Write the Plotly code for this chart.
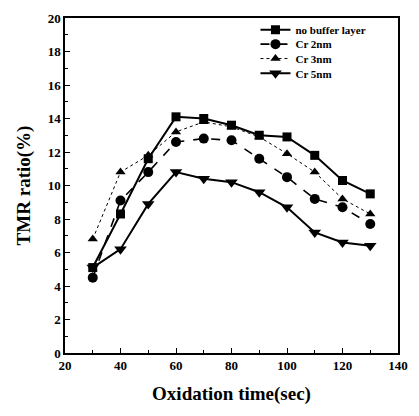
import plotly.graph_objects as go

time_sec = [30, 40, 50, 60, 70, 80, 90, 100, 110, 120, 130]
no_buffer = [5.1, 8.3, 11.6, 14.1, 14.0, 13.6, 13.0, 12.9, 11.8, 10.3, 9.5]
cr_2nm = [4.5, 9.1, 10.8, 12.6, 12.8, 12.7, 11.6, 10.5, 9.2, 8.7, 7.7]
cr_3nm = [6.8, 10.8, 11.8, 13.2, 13.8, 13.5, 12.9, 11.9, 10.8, 9.2, 8.3]
cr_5nm = [5.1, 6.2, 8.9, 10.8, 10.4, 10.2, 9.6, 8.7, 7.2, 6.6, 6.4]
names = ["no buffer layer", "Cr 2nm", "Cr 3nm", "Cr 5nm"]

series = [no_buffer, cr_2nm, cr_3nm, cr_5nm]
symbols = ["square", "circle", "triangle-up", "triangle-down"]
dashes = ["solid", "dash", "dot", "solid"]
widths = [2, 1.6, 1, 2]
sizes = [9, 10, 9, 11]
legend_ids = ["legend", "legend2", "legend3", "legend4"]
legend_y = [0.965, 0.922, 0.879, 0.835]

font = "Liberation Serif, Times New Roman, serif"
fig = go.Figure()
for name, ys, sym, dsh, w, s, lg in zip(names, series, symbols, dashes, widths, sizes, legend_ids):
    fig.add_trace(go.Scatter(
        x=time_sec, y=ys, name=name, mode="lines+markers", legend=lg,
        line=dict(color="black", width=w, dash=dsh),
        marker=dict(symbol=sym, size=s, color="black"),
    ))

axis_common = dict(
    showline=True, linecolor="black", linewidth=1.5, mirror=True,
    ticks="inside", ticklen=5, tickcolor="black", tickwidth=1.2,
    showgrid=False, zeroline=False,
    tickfont=dict(family=font, size=13, color="black", weight="bold"),
)
fig.update_xaxes(range=[20, 140], dtick=20, tick0=0,
                 minor=dict(dtick=10, ticks="inside", ticklen=3, tickcolor="black"),
                 title=dict(text="Oxidation time(sec)", standoff=14,
                            font=dict(family=font, size=19, color="black", weight="bold")),
                 **axis_common)
fig.update_yaxes(range=[0, 20], dtick=2, tick0=0,
                 minor=dict(dtick=1, ticks="inside", ticklen=3, tickcolor="black"),
                 title=dict(text="TMR ratio(%)", standoff=12,
                            font=dict(family=font, size=19, color="black", weight="bold")),
                 **axis_common)

legend_style = dict(x=0.572, xanchor="left", yanchor="middle",
                    bgcolor="rgba(0,0,0,0)", borderwidth=0,
                    font=dict(family=font, size=11, color="black", weight="bold"),
                    itemwidth=30)
layout_legends = {lg: dict(y=ly, **legend_style) for lg, ly in zip(legend_ids, legend_y)}

fig.update_layout(
    width=419, height=416,
    margin=dict(l=65, r=11, t=14, b=63),
    plot_bgcolor="white", paper_bgcolor="white",
    showlegend=True,
    **layout_legends,
)
fig.write_html("out.html")
